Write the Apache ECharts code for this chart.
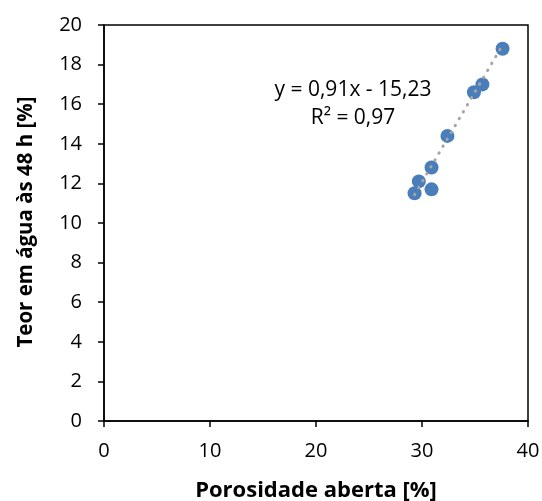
<!DOCTYPE html>
<html>
<head>
<meta charset="utf-8">
<script src="https://cdn.jsdelivr.net/npm/echarts@6/dist/echarts.min.js"></script>
<style>
html,body{margin:0;padding:0;background:#fff;}
#c{width:542px;height:501px;}
</style>
</head>
<body>
<div id="c"></div>
<script>
// Data
const porosidade = [29.3, 29.7, 30.9, 30.9, 32.4, 34.9, 35.7, 37.6];
const teorAgua   = [11.5, 12.1, 11.7, 12.8, 14.4, 16.6, 17.0, 18.8];
const xTicks = [0, 10, 20, 30, 40];
const yTicks = [0, 2, 4, 6, 8, 10, 12, 14, 16, 18, 20];
const trendSlope = 0.91;
const trendIntercept = -15.23;
const eqLabel = 'y = 0,91x - 15,23';
const r2Label = 'R² = 0,97';
const xTitle = 'Porosidade aberta [%]';
const yTitle = 'Teor em água às 48 h [%]';

const points = porosidade.map((x, i) => [x, teorAgua[i]]);
const xMin = Math.min(...porosidade), xMax = Math.max(...porosidade);
const trend = [[xMin, trendSlope * xMin + trendIntercept], [xMax, trendSlope * xMax + trendIntercept]];

const FONT = 'Open Sans';
const chart = echarts.init(document.getElementById('c'), null, {renderer: 'canvas'});
chart.setOption({
  animation: false,
  backgroundColor: '#fff',
  grid: {left: 104, right: 14, top: 25, bottom: 80, outerBoundsMode: 'none', containLabel: false,
         show: true, borderColor: '#000', borderWidth: 1.5, backgroundColor: 'transparent'},
  xAxis: {
    type: 'value', min: xTicks[0], max: xTicks[xTicks.length - 1], interval: 10,
    name: xTitle, nameLocation: 'middle', nameGap: 59,
    nameTextStyle: {fontFamily: FONT, fontWeight: 'bold', fontSize: 22, color: '#000'},
    axisLine: {show: true, onZero: false, lineStyle: {color: '#000', width: 1.5}},
    axisTick: {show: true, length: 6, inside: false, lineStyle: {color: '#000', width: 1.5}},
    axisLabel: {fontFamily: FONT, fontSize: 20, color: '#000', margin: 20},
    splitLine: {show: false}
  },
  yAxis: {
    type: 'value', min: yTicks[0], max: yTicks[yTicks.length - 1], interval: 2,
    axisLine: {show: true, onZero: false, lineStyle: {color: '#000', width: 1.5}},
    axisTick: {show: true, length: 6, inside: false, lineStyle: {color: '#000', width: 1.5}},
    axisLabel: {fontFamily: FONT, fontSize: 20, color: '#000', margin: 22},
    splitLine: {show: false}
  },
  series: [
    {
      type: 'scatter', data: points, symbol: 'circle', symbolSize: 14,
      itemStyle: {color: '#4A7EBB', opacity: 1}, z: 2
    },
    {
      type: 'line', data: trend, symbol: 'none', z: 3,
      lineStyle: {color: '#A5A5A5', width: 3, type: [0.5, 7.5], cap: 'round'}
    }
  ],
  graphic: [
    {type: 'text', x: 26, y: 222, rotation: Math.PI / 2, scaleX: 0.93,
     style: {text: yTitle, fontFamily: FONT, fontWeight: 'bold', fontSize: 22, fill: '#000', align: 'center', verticalAlign: 'middle'}},
    {type: 'text', x: 353, y: 90, style: {text: eqLabel, fontFamily: FONT, fontSize: 21, fill: '#000', align: 'center', verticalAlign: 'middle'}},
    {type: 'text', x: 353, y: 118, style: {text: r2Label, fontFamily: FONT, fontSize: 21, fill: '#000', align: 'center', verticalAlign: 'middle'}}
  ]
});
</script>
</body>
</html>
